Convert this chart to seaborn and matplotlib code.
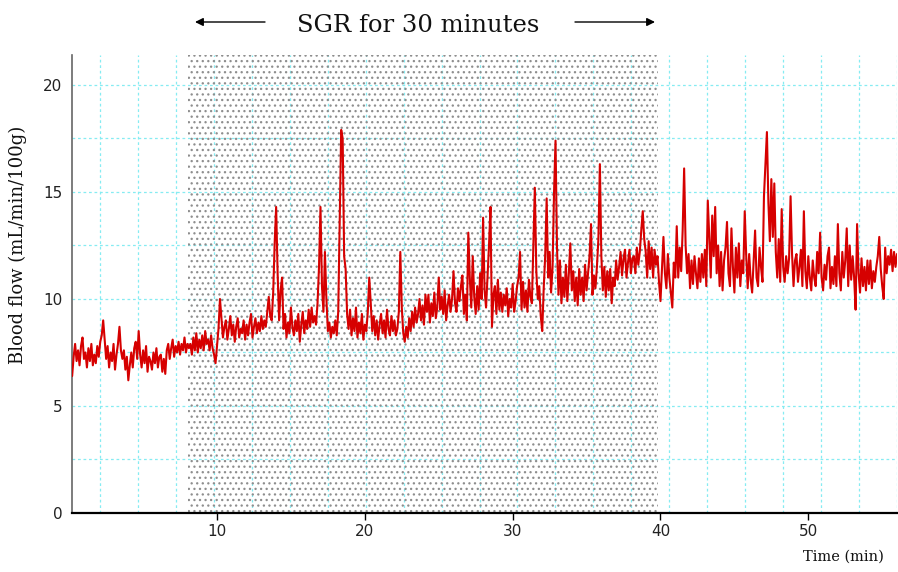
import numpy as np
import pandas as pd
import matplotlib
matplotlib.use("Agg")
import matplotlib.pyplot as plt
import seaborn as sns

# Blood flow samples, one every 0.1 min starting at 0.2 min
flow = [
    6.4, 7.3, 7.9, 7.1, 7.6, 6.9, 7.8, 8.2, 7.2, 7.5, 6.8, 7.7, 7.1, 7.9, 6.9, 7.4, 7.0, 7.8, 7.3, 8.0,
    8.3, 9.0, 8.1, 7.2, 7.8, 6.8, 7.5, 7.1, 7.9, 6.7, 7.4, 7.9, 8.7, 7.6, 7.2, 7.6, 6.7, 7.3, 6.2, 6.9,
    7.5, 6.8, 7.7, 8.0, 7.2, 8.5, 7.4, 6.8, 7.6, 7.0, 7.8, 6.6, 7.3, 7.1, 6.7, 7.5, 7.0, 7.7, 6.8, 7.3,
    7.4, 6.6, 7.2, 6.5, 7.6, 7.9, 7.2, 7.7, 8.1, 7.3, 7.8, 7.5, 8.0, 7.4, 7.9, 7.6, 8.2, 7.5, 7.9, 7.7,
    7.9, 7.4, 8.2, 7.6, 8.4, 7.5, 8.1, 7.7, 8.3, 7.6, 8.5, 7.9, 8.1, 7.6, 8.3, 7.7, 7.4, 7.0, 7.8, 8.6,
    10.0, 9.1, 8.2, 8.7, 9.0, 8.1, 8.6, 9.2, 8.3, 8.8, 8.0, 8.7, 9.1, 8.2, 8.6, 8.4, 9.0, 8.1, 8.8, 8.3,
    8.9, 9.3, 8.2, 8.7, 9.1, 8.4, 8.9, 8.5, 9.2, 8.6, 9.0, 8.7, 9.4, 10.1, 9.2, 9.0, 10.3, 12.6, 14.3, 11.2,
    9.0, 10.4, 11.0, 8.6, 9.3, 8.2, 8.9, 8.4, 9.6, 8.7, 8.3, 9.0, 8.5, 9.3, 8.0, 8.8, 9.4, 8.4, 9.0, 8.6,
    9.5, 8.7, 9.6, 8.9, 9.2, 8.8, 9.8, 11.5, 14.3, 10.6, 9.4, 12.2, 10.0, 8.5, 8.9, 8.2, 8.7, 8.4, 9.0, 8.3,
    9.4, 13.5, 17.9, 17.5, 12.0, 11.4, 9.3, 8.6, 9.5, 8.3, 9.1, 8.5, 9.6, 8.2, 8.9, 8.4, 9.3, 8.1, 8.8, 8.5,
    9.4, 11.0, 9.8, 8.5, 9.2, 8.3, 9.0, 8.1, 8.8, 9.3, 8.4, 9.0, 8.2, 9.5, 8.6, 8.3, 9.2, 8.5, 9.0, 8.3,
    8.6, 9.4, 12.2, 9.6, 8.4, 8.0, 8.7, 8.2, 9.1, 8.5, 9.4, 8.7, 9.6, 8.9, 9.3, 10.0, 9.0, 9.7, 8.8, 10.2,
    9.4, 10.2, 8.9, 9.8, 9.2, 10.3, 9.1, 9.6, 11.0, 9.5, 10.1, 9.3, 10.4, 9.0, 9.7, 10.2, 9.4, 10.0, 11.3, 9.8,
    9.4, 10.5, 9.9, 10.6, 11.1, 9.3, 10.2, 9.0, 13.1, 11.0, 9.6, 12.0, 10.1, 9.3, 10.6, 9.5, 11.2, 10.0, 13.8, 10.4,
    9.6, 11.0, 12.5, 14.3, 8.7, 10.2, 10.6, 9.3, 10.9, 9.5, 10.3, 9.4, 10.2, 9.7, 10.5, 9.2, 10.0, 9.6, 10.7, 9.4,
    9.9, 10.6, 11.0, 12.2, 9.5, 10.8, 9.6, 10.4, 9.4, 10.9, 10.1, 9.8, 12.5, 15.2, 11.3, 10.0, 10.6, 9.2, 8.5, 10.5,
    12.0, 14.7, 11.0, 12.2, 10.3, 11.5, 15.0, 17.4, 12.4, 10.2, 11.8, 9.8, 11.0, 10.1, 11.6, 9.9, 11.2, 12.6, 10.4, 11.3,
    9.9, 11.0, 9.7, 11.4, 10.2, 11.0, 9.9, 11.6, 10.4, 11.2, 12.0, 13.5, 10.2, 11.1, 10.5, 11.5, 12.8, 16.3, 12.0, 10.4,
    11.5, 10.1, 11.3, 10.4, 11.4, 9.8, 11.0, 10.6, 11.8, 10.9, 11.5, 12.2, 11.1, 11.9, 12.3, 11.0, 11.7, 12.3, 11.2, 11.9,
    12.0, 11.2, 12.4, 11.6, 12.2, 13.2, 14.1, 12.8, 12.2, 11.0, 12.7, 11.4, 12.4, 11.0, 12.3, 11.6, 12.0, 10.8, 9.9, 11.4,
    12.9, 11.2, 10.5, 12.1, 11.0, 10.3, 9.6, 11.7, 11.0, 13.4, 11.0, 12.4, 11.3, 13.2, 16.1, 12.5, 11.2, 12.1, 10.5, 11.8,
    10.7, 12.0, 11.2, 10.5, 11.9, 10.8, 12.1, 11.0, 12.3, 10.6, 14.6, 12.9, 11.0, 13.9, 12.0, 14.3, 11.2, 12.5, 10.6, 12.2,
    10.4, 11.8, 12.4, 13.6, 11.2, 10.6, 13.3, 11.5, 10.3, 12.4, 11.0, 12.6, 10.6, 11.8, 11.2, 14.1, 12.0, 10.5, 12.1, 10.9,
    10.3, 11.8, 13.2, 11.0, 10.6, 12.4, 11.5, 10.8, 14.8, 16.3, 17.8, 14.5, 12.7, 15.6, 12.9, 15.4, 12.2, 11.0, 12.8, 10.8,
    14.2, 11.5, 10.8, 12.0, 11.2, 11.9, 14.8, 12.1, 10.6, 11.8, 12.1, 10.8, 11.5, 12.3, 10.6, 14.1, 11.3, 10.5, 12.0, 11.0,
    10.4, 11.8, 11.0, 10.6, 12.2, 11.2, 13.1, 11.0, 10.4, 11.6, 10.9, 12.0, 12.4, 10.5, 11.5, 10.7, 12.0, 10.6, 13.5, 11.2,
    10.4, 12.2, 11.0, 11.8, 13.3, 10.6, 12.5, 10.9, 12.0, 11.0, 9.5, 13.5, 11.2, 10.3, 11.9, 10.6, 11.5, 10.4, 11.8, 10.7,
    11.8, 10.5, 11.3, 10.8, 11.5, 12.0, 12.9, 11.4, 10.6, 10.0, 12.4, 11.2, 12.0, 11.6, 12.3, 11.3, 12.2, 11.5, 12.1, 11.7,
]
time_min = np.round(0.2 + 0.1 * np.arange(len(flow)), 1)

x_ticks = [10, 20, 30, 40, 50]
y_ticks = [0, 5, 10, 15, 20]
sgr_start, sgr_end = 8.05, 39.8
title_text = "SGR for 30 minutes"
y_label = "Blood flow (mL/min/100g)"
x_label = "Time (min)"

df = pd.DataFrame({"time": time_min, "flow": flow})

sns.set_style("white")
plt.rcParams["font.family"] = ["DejaVu Sans"]

fig = plt.figure(figsize=(8.98, 5.72), dpi=100)
ax = fig.add_axes([72 / 898, 1 - 513 / 572, (897 - 72) / 898, (513 - 55) / 572])

# grid
grid_kw = dict(color="#86ecf2", lw=0.9, ls=(0, (2.2, 2.2)), zorder=0)
for yv in np.arange(2.5, 21, 2.5):
    ax.axhline(yv, **grid_kw)
for xv in 2.09 + 2.567 * np.arange(22):
    if xv < 56:
        ax.axvline(xv, **grid_kw)

# SGR stippled region
plt.rcParams["hatch.color"] = "#8e8e8e"
plt.rcParams["hatch.linewidth"] = 0.9
ax.axvspan(sgr_start, sgr_end, facecolor="none", edgecolor="#8e8e8e",
           hatch="...", linewidth=0, zorder=0.5)

sns.lineplot(data=df, x="time", y="flow", ax=ax, color="#d60000", lw=1.5,
             zorder=3)

ax.set_xlim(0.19, 56.0)
ax.set_ylim(0, 21.4)
ax.set_xticks(x_ticks)
ax.set_yticks(y_ticks)
ax.set_yticks(np.arange(2.5, 21, 5), minor=True)
ax.tick_params(axis="both", which="major", labelsize=11, length=5, width=1,
               direction="out", colors="#222222", pad=3)
ax.tick_params(axis="y", which="minor", length=3, width=1, color="#555555")
ax.tick_params(axis="y", which="major", length=4, color="#555555")
ax.tick_params(axis="x", which="major", bottom=True, length=5, color="black")
ax.set_xlabel("")
ax.set_ylabel("")

for s in ["top", "right"]:
    ax.spines[s].set_visible(False)
ax.spines["left"].set_color("#666666")
ax.spines["left"].set_linewidth(1.2)
ax.spines["bottom"].set_color("black")
ax.spines["bottom"].set_linewidth(1.6)

fig.text(18 / 898, 1 - 245 / 572, y_label, rotation=90, ha="center",
         va="center", fontsize=13, family="DejaVu Serif", color="#111111")
fig.text(884 / 898, 1 - 557 / 572, x_label, ha="right", va="center",
         fontsize=10.5, family="DejaVu Serif", color="#111111")
fig.text(418 / 898, 1 - 25 / 572, title_text, ha="center", va="center",
         fontsize=17.5, family="DejaVu Serif", color="#111111")

arrow_kw = dict(arrowstyle="-|>", color="black", lw=1.0, mutation_scale=12,
                shrinkA=0, shrinkB=0)
ax.annotate("", xy=(195 / 898, 1 - 22 / 572), xytext=(265 / 898, 1 - 22 / 572),
            xycoords="figure fraction", textcoords="figure fraction",
            arrowprops=arrow_kw, annotation_clip=False)
ax.annotate("", xy=(655 / 898, 1 - 22 / 572), xytext=(575 / 898, 1 - 22 / 572),
            xycoords="figure fraction", textcoords="figure fraction",
            arrowprops=arrow_kw, annotation_clip=False)

fig.savefig("out.png", dpi=100)
